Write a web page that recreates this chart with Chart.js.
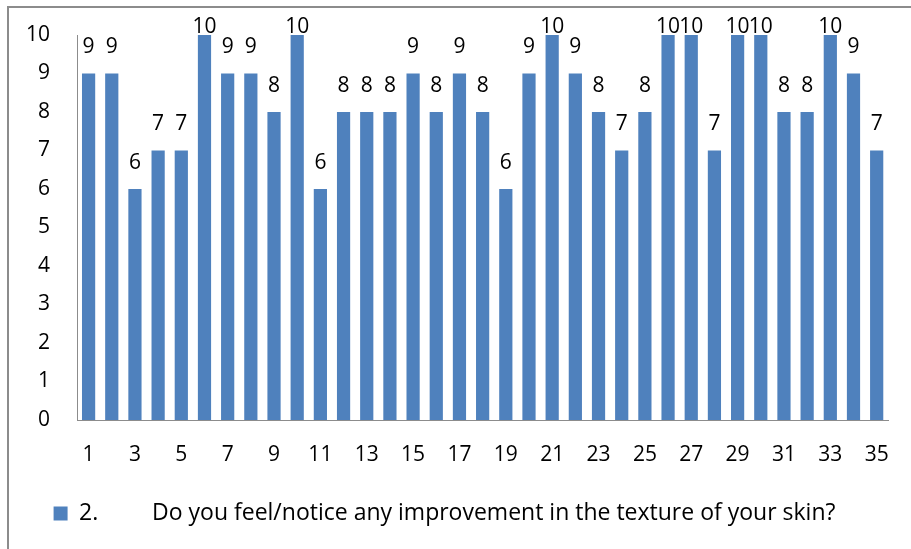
<!DOCTYPE html>
<html>
<head>
<meta charset="utf-8">
<script src="https://cdn.jsdelivr.net/npm/chart.js@4.4.1/dist/chart.umd.min.js"></script>
<style>
  html, body { margin: 0; padding: 0; background: #fff; overflow: hidden; }
  #wrap { position: relative; width: 911px; height: 549px; }
  #frame { position: absolute; left: 7px; top: 6px; width: 1000px; height: 1000px; border: 2px solid #8c8c8c; box-sizing: border-box; }
  #chart { position: absolute; left: 0; top: 0; }
</style>
</head>
<body>
<div id="wrap">
  <div id="frame"></div>
  <canvas id="chart" width="911" height="549"></canvas>
</div>
<script>
// respondents 1..35
var respondents = [];
for (var i = 1; i <= 35; i++) respondents.push(String(i));

// scores
var scores = [9, 9, 6, 7, 7, 10, 9, 9, 8, 10,
              6, 8, 8, 8, 9, 8, 9, 8, 6, 9,
              10, 9, 8, 7, 8, 10, 10, 7, 10, 10,
              8, 8, 10, 9, 7];

var seriesName = '2.         Do you feel/notice any improvement in the texture of your skin?';
var yTicks = [0, 1, 2, 3, 4, 5, 6, 7, 8, 9, 10];

var fontFam = "'Open Sans', 'Liberation Sans', sans-serif";

// draw the value above each bar
var valueLabels = {
  id: 'valueLabels',
  afterDatasetsDraw: function(chart) {
    var ctx = chart.ctx;
    var meta = chart.getDatasetMeta(0);
    ctx.save();
    ctx.fillStyle = '#000';
    ctx.font = '21px ' + fontFam;
    ctx.textAlign = 'center';
    ctx.textBaseline = 'middle';
    meta.data.forEach(function(bar, idx) {
      var y = Math.max(bar.y - 26, chart.chartArea.top - 8);
      ctx.fillText(String(scores[idx]), bar.x, y);
    });
    ctx.restore();
  }
};

var ctx = document.getElementById('chart');
var myChart = new Chart(ctx, {
  type: 'bar',
  data: {
    labels: respondents,
    datasets: [{
      label: seriesName,
      data: scores,
      backgroundColor: '#4F81BD',
      borderWidth: 0,
      barPercentage: 0.57,
      categoryPercentage: 1.0
    }]
  },
  options: {
    responsive: false,
    animation: false,
    layout: { padding: { left: 0, right: 22, top: 35, bottom: 14 } },
    plugins: {
      tooltip: { enabled: false },
      legend: {
        position: 'bottom',
        align: 'center',
        labels: {
          color: '#000',
          font: { family: fontFam, size: 23 },
          boxWidth: 14,
          boxHeight: 14,
          padding: 4
        }
      }
    },
    scales: {
      x: {
        grid: { display: false, drawTicks: false },
        border: { display: true, color: '#8c8c8c', width: 1 },
        ticks: {
          autoSkip: false,
          maxRotation: 0,
          padding: 22,
          color: '#000',
          font: { family: fontFam, size: 21 },
          callback: function(v, idx) { return idx % 2 === 0 ? respondents[idx] : ''; }
        },
        afterFit: function(scale) { scale.height = 78; }
      },
      y: {
        min: 0,
        max: 10,
        afterBuildTicks: function(scale) {
          scale.ticks = yTicks.map(function(v) { return { value: v }; });
        },
        grid: { display: false, drawTicks: false },
        border: { display: true, color: '#8c8c8c', width: 1 },
        ticks: {
          padding: 27,
          color: '#000',
          font: { family: fontFam, size: 21 }
        },
        afterFit: function(scale) {
          scale.width = 77;
          scale.paddingTop = 0;
          scale.paddingBottom = 0;
        }
      }
    }
  },
  plugins: [valueLabels]
});
</script>
</body>
</html>
